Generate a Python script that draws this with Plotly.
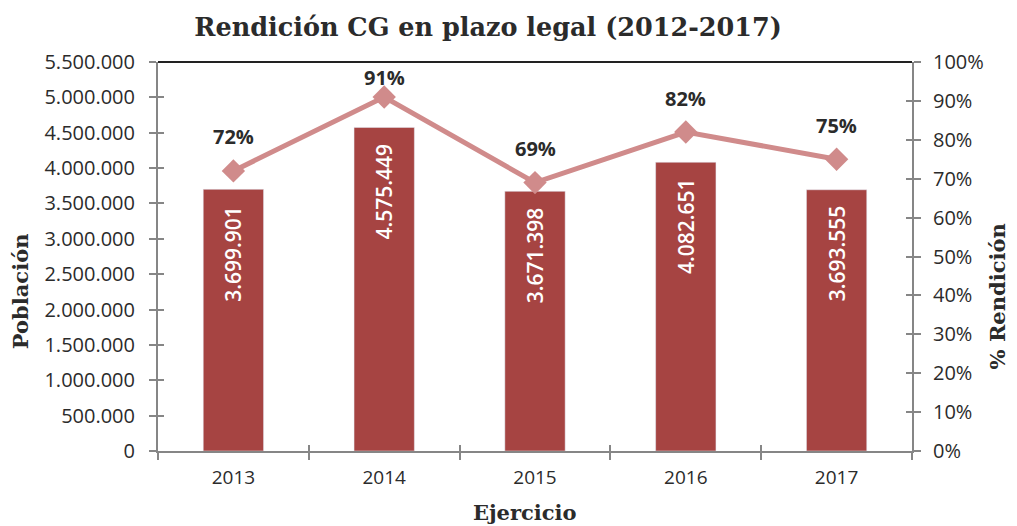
import plotly.graph_objects as go

years = ["2013", "2014", "2015", "2016", "2017"]
poblacion = [3699901, 4575449, 3671398, 4082651, 3693555]
rendicion = [0.72, 0.91, 0.69, 0.82, 0.75]
bar_labels = ["3.699.901", "4.575.449", "3.671.398", "4.082.651", "3.693.555"]
pct_labels = ["72%", "91%", "69%", "82%", "75%"]
left_ticks = list(range(0, 5500001, 500000))
left_ticktext = ["0", "500.000", "1.000.000", "1.500.000", "2.000.000", "2.500.000",
                 "3.000.000", "3.500.000", "4.000.000", "4.500.000", "5.000.000", "5.500.000"]
right_ticks = [i / 10 for i in range(11)]
right_ticktext = [f"{i*10}%" for i in range(11)]

BAR = "#A64442"
LINE = "#D08B8B"
AXIS = "#868686"
TXT = "#2b2b2b"
SANS = "Open Sans"
SLAB = "DejaVu Serif"
PLOT_H = 389  # plot-area height in px

fig = go.Figure()
fig.add_trace(go.Bar(
    x=years, y=poblacion, marker_color=BAR, width=0.4,
    showlegend=False, hoverinfo="skip",
))
fig.add_trace(go.Scatter(
    x=years, y=rendicion, yaxis="y2", mode="lines+markers",
    line=dict(color=LINE, width=5), marker=dict(symbol="diamond", size=18, color=LINE),
    showlegend=False, hoverinfo="skip", cliponaxis=False,
))
# dummy traces to activate overlay axes used for inner tick halves
fig.add_trace(go.Scatter(x=[], y=[], xaxis="x2", yaxis="y3", showlegend=False))
fig.add_trace(go.Scatter(x=[], y=[], xaxis="x2", yaxis="y4", showlegend=False))

for i, (v, lab) in enumerate(zip(rendicion, pct_labels)):
    shift = min(34, (1 - v) * PLOT_H - 15)
    fig.add_annotation(x=i, y=v, xref="x", yref="y2", text=lab, showarrow=False,
                       yshift=shift, font=dict(family=SANS, size=20, color=TXT, weight="bold"))

for i, (v, lab) in enumerate(zip(poblacion, bar_labels)):
    fig.add_annotation(x=i, y=v, xref="x", yref="y", text=lab, showarrow=False,
                       textangle=-90, yanchor="top", yshift=-14,
                       font=dict(family=SANS, size=21, color="white", weight=600))

axis_title_font = dict(family=SLAB, size=21, color=TXT)
fig.add_annotation(text="<b>Población</b>", xref="paper", yref="paper", x=-0.183, y=0.411,
                   xanchor="center", yanchor="middle",
                   textangle=-90, showarrow=False, font=axis_title_font)
fig.add_annotation(text="<b>% Rendición</b>", xref="paper", yref="paper", x=1.113, y=0.398,
                   xanchor="center", yanchor="middle",
                   textangle=-90, showarrow=False, font=axis_title_font)
fig.add_annotation(text="<b>Ejercicio</b>", xref="paper", yref="paper", x=0.487, y=-0.159,
                   xanchor="center", yanchor="middle",
                   showarrow=False, font=axis_title_font)

tickfont = dict(family=SANS, size=20, color=TXT)
fig.update_layout(
    width=1017, height=526,
    margin=dict(l=150, r=113, t=54, b=83, autoexpand=False),
    paper_bgcolor="white", plot_bgcolor="white",
    title=dict(text="<b>Rendición CG en plazo legal (2012-2017)</b>", xref="container", x=0.472,
               xanchor="center", y=0.964, yanchor="middle",
               font=dict(family=SLAB, size=25.5, color=TXT)),
    xaxis=dict(type="category", tickson="boundaries", ticks="outside", ticklen=7, tickwidth=2,
               tickcolor=AXIS, showline=True, linecolor=AXIS, linewidth=2, showgrid=False,
               tickfont=dict(family=SANS, size=19, color=TXT), range=[-0.5, 4.5], ticklabelstandoff=8),
    xaxis2=dict(overlaying="x", anchor="y", range=[-0.5, 4.5], tickvals=[-0.5, 0.5, 1.5, 2.5, 3.5, 4.5],
                ticks="inside", ticklen=6, tickwidth=2, tickcolor=AXIS, showticklabels=False,
                showgrid=False, zeroline=False, showline=False),
    yaxis=dict(range=[0, 5500000], tickvals=left_ticks, ticktext=left_ticktext, ticks="outside",
               ticklen=7, tickwidth=2, tickcolor=AXIS, showline=True, linecolor=AXIS, linewidth=2,
               showgrid=False, zeroline=False, tickfont=tickfont, ticklabelstandoff=10),
    yaxis2=dict(overlaying="y", side="right", range=[0, 1], tickvals=right_ticks, ticktext=right_ticktext,
                ticks="outside", ticklen=7, tickwidth=2, tickcolor=AXIS, showline=True, linecolor=AXIS,
                linewidth=2, showgrid=False, zeroline=False, tickfont=tickfont, ticklabelstandoff=8),
    yaxis3=dict(overlaying="y", anchor="x2", side="left", range=[0, 5500000], tickvals=left_ticks,
                ticks="inside", ticklen=6, tickwidth=2, tickcolor=AXIS, showticklabels=False,
                showgrid=False, zeroline=False, showline=False),
    yaxis4=dict(overlaying="y", anchor="x2", side="right", range=[0, 1], tickvals=right_ticks,
                ticks="inside", ticklen=6, tickwidth=2, tickcolor=AXIS, showticklabels=False,
                showgrid=False, zeroline=False, showline=False),
    shapes=[dict(type="line", xref="paper", yref="paper", x0=0, x1=1, y0=1, y1=1,
                 line=dict(color="#222222", width=2))],
)

fig.write_html("out.html")
